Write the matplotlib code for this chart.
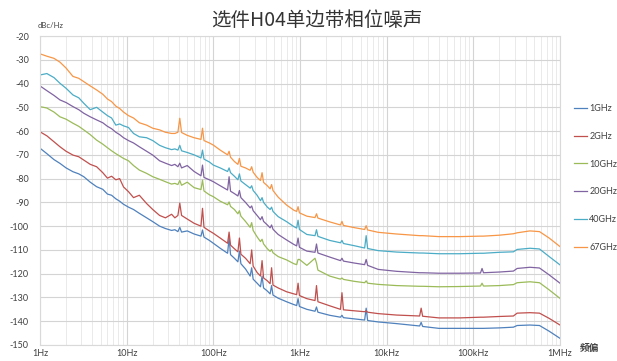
import numpy as np
import matplotlib.pyplot as plt
from matplotlib.ticker import FixedLocator, NullFormatter, LogLocator

plt.rcParams['font.family'] = ['Lato', 'Noto Sans CJK SC', 'DejaVu Sans']

# offset frequency grid (Hz), grouped by decade-ish blocks
freq = [1, 1.2, 1.45, 1.7, 2, 2.4, 2.8, 3.2, 3.8, 4.5, 5.3, 6.0, 6.7, 7.5, 8.3, 9.2,
        10.5, 12, 14, 17, 20, 24, 28, 33, 36, 39, 41, 43, 50, 60, 72, 75, 78, 90,
        100, 120, 146, 152, 158, 175, 192, 200, 208, 235, 266, 277, 288, 320, 350, 365, 380,
        420, 452, 470, 488, 560, 700, 850, 915, 950, 985,
        1200, 1490, 1550, 1610, 2200, 2930, 3050, 3170, 4200, 5570, 5800, 6030, 8000,
        13000, 24000, 25000, 26000, 40000, 70000,
        121000, 126000, 131000, 200000, 290000, 320000, 450000, 580000, 750000, 1000000]

pn_1g = [-67.2, -69.5, -72.0, -73.6, -75.5, -77.1, -78.0, -79.2, -81.5, -83.4, -84.5, -86.5, -87.0, -88.5, -89.5, -90.8,
         -92.0, -93.0, -94.6, -96.5, -98.1, -100.0, -101.0, -101.8, -101.5, -102.3, -100.5, -102.5, -102.0, -103.3, -104.2, -101.6, -104.6, -106.0,
         -107.2, -109.3, -111.4, -105.0, -112.0, -113.5, -115.0, -110.5, -115.8, -118.0, -121.0, -117.5, -122.3, -124.0, -125.5, -121.0, -126.0,
         -127.3, -128.5, -125.0, -129.0, -130.3, -131.8, -133.0, -133.4, -130.5, -133.8,
         -135.0, -135.8, -134.0, -136.2, -137.5, -138.3, -137.5, -138.5, -139.0, -139.5, -134.5, -139.7, -140.3,
         -141.0, -142.0, -140.5, -142.2, -143.0, -143.0,
         -143.0, -143.0, -143.0, -142.8, -142.5, -141.8, -141.6, -141.8, -144.2, -147.2]

pn_2g = [-60.3, -62.0, -64.5, -66.6, -68.5, -70.1, -70.8, -72.2, -74.0, -75.0, -77.5, -79.8, -79.0, -80.5, -80.0, -83.5,
         -85.5, -88.0, -87.0, -90.5, -93.0, -95.5, -96.5, -95.0, -96.5, -95.5, -90.3, -95.5, -97.0, -98.8, -100.0, -92.5, -100.5, -102.0,
         -103.0, -105.0, -107.2, -102.5, -108.0, -109.5, -110.8, -105.0, -111.8, -113.5, -115.8, -110.0, -116.8, -119.5, -121.0, -114.5, -121.8,
         -123.0, -124.2, -117.5, -124.8, -126.0, -127.6, -128.5, -128.8, -124.0, -129.2,
         -130.5, -131.3, -125.0, -131.8, -133.5, -135.0, -128.0, -135.2, -135.6, -136.0, -135.6, -136.2, -136.8,
         -137.4, -137.8, -134.5, -137.9, -138.6, -138.6,
         -138.3, -138.3, -138.3, -138.0, -137.8, -136.6, -136.4, -136.6, -138.8, -141.6]

pn_10g = [-49.7, -50.3, -52.0, -54.0, -55.0, -56.7, -58.0, -59.5, -61.5, -63.8, -65.5, -67.0, -68.3, -69.5, -70.5, -71.5,
          -72.5, -74.5, -76.4, -77.8, -79.2, -80.3, -81.3, -82.3, -82.0, -82.5, -80.8, -82.8, -81.5, -83.8, -84.6, -80.6, -85.2, -86.8,
          -87.6, -89.5, -91.0, -89.8, -91.7, -93.0, -94.8, -93.5, -95.8, -98.0, -100.5, -98.5, -101.8, -104.5, -106.5, -105.5, -107.5,
          -109.5, -110.6, -109.8, -111.2, -112.8, -114.2, -115.8, -116.2, -114.0, -114.0,
          -116.5, -113.5, -115.5, -118.5, -121.0, -122.3, -121.8, -122.4, -123.2, -123.8, -123.0, -124.0, -124.5,
          -125.0, -125.3, -125.3, -125.3, -125.5, -125.4,
          -125.2, -124.0, -125.2, -125.0, -124.6, -123.8, -123.4, -123.8, -126.8, -130.4]

pn_20g = [-41.0, -43.0, -45.0, -46.9, -48.0, -49.7, -51.0, -52.5, -54.0, -55.3, -56.5, -58.0, -59.0, -60.5, -61.5, -62.8,
          -64.0, -65.0, -66.6, -68.5, -70.1, -72.5, -73.5, -74.5, -74.0, -75.0, -73.5, -75.5, -74.5, -77.0, -78.8, -74.3, -79.5, -80.5,
          -81.3, -83.0, -84.8, -79.2, -85.3, -86.3, -87.3, -85.0, -88.0, -90.0, -92.3, -91.5, -93.5, -95.5, -97.3, -96.0, -98.0,
          -99.5, -100.7, -99.5, -101.3, -103.5, -105.8, -107.7, -108.3, -105.0, -108.9,
          -110.5, -111.0, -107.5, -111.3, -113.0, -114.5, -113.5, -114.7, -115.5, -116.2, -114.0, -116.5, -118.2,
          -119.0, -119.6, -119.6, -119.6, -119.8, -119.8,
          -119.7, -117.8, -119.6, -119.3, -118.9, -117.8, -117.3, -117.6, -120.5, -124.0]

pn_40g = [-36.4, -35.8, -37.5, -39.9, -42.0, -44.8, -46.0, -48.3, -51.0, -50.0, -52.0, -53.5, -54.5, -57.5, -57.0, -57.8,
          -58.5, -61.0, -62.4, -62.8, -64.0, -66.0, -67.0, -67.8, -67.5, -68.0, -66.0, -68.3, -69.0, -70.0, -71.3, -68.0, -71.8, -73.0,
          -74.3, -75.5, -77.0, -75.5, -77.5, -79.0, -80.5, -78.0, -81.0, -82.5, -84.0, -83.0, -85.0, -87.0, -89.3, -88.0, -90.0,
          -92.0, -93.0, -92.0, -93.8, -96.0, -98.1, -100.2, -100.8, -97.5, -101.4,
          -103.5, -104.0, -101.5, -104.3, -106.0, -107.0, -106.0, -107.3, -108.2, -109.2, -104.0, -109.4, -110.3,
          -110.9, -111.3, -111.3, -111.3, -111.6, -111.6,
          -111.4, -111.4, -111.4, -111.0, -110.8, -109.8, -109.3, -109.6, -112.8, -116.3]

pn_67g = [-27.5, -28.5, -29.4, -31.0, -33.5, -37.0, -37.8, -39.2, -41.0, -42.7, -44.5, -46.5, -47.6, -49.5, -50.5, -52.0,
          -53.5, -54.5, -56.5, -57.5, -58.8, -59.5, -60.5, -61.0, -61.0, -60.5, -54.6, -60.6, -61.8, -62.8, -63.5, -58.8, -64.0, -65.0,
          -65.9, -68.0, -70.0, -68.5, -71.0, -72.8, -74.0, -71.5, -74.8, -75.5, -76.5, -75.0, -77.3, -79.5, -80.8, -77.5, -81.6,
          -83.0, -84.3, -82.5, -85.0, -87.8, -91.1, -93.3, -93.8, -91.8, -94.4,
          -95.8, -96.4, -94.8, -96.6, -98.2, -99.5, -98.0, -99.7, -100.6, -101.4, -99.8, -101.6, -102.6,
          -103.3, -104.0, -104.0, -104.0, -104.4, -104.4,
          -104.2, -104.2, -104.2, -103.8, -103.2, -102.8, -102.0, -102.3, -105.0, -108.6]

series = [('1GHz', pn_1g, '#4F81BD'),
          ('2GHz', pn_2g, '#C0504D'),
          ('10GHz', pn_10g, '#9BBB59'),
          ('20GHz', pn_20g, '#8064A2'),
          ('40GHz', pn_40g, '#4BACC6'),
          ('67GHz', pn_67g, '#F79646')]

yticks = list(range(-20, -151, -10))
xticks = [1, 10, 100, 1e3, 1e4, 1e5, 1e6]
xticklabels = ['1Hz', '10Hz', '100Hz', '1kHz', '10kHz', '100kHz', '1MHz']

for name, vals, c in series:
    if len(vals) != len(freq):
        raise ValueError('%s has %d points, freq has %d' % (name, len(vals), len(freq)))

fig = plt.figure(figsize=(6.17, 3.61), dpi=100)
ax = fig.add_axes([40/617, 1-345/361, 520/617, 309/361])

for name, vals, c in series:
    ax.plot(freq, vals, '-', color=c, lw=0.9, label=name)

ax.set_xscale('log')
ax.set_xlim(1, 1e6)
ax.set_ylim(-150, -20)
ax.xaxis.set_major_locator(FixedLocator(xticks))
ax.set_xticklabels(xticklabels)
ax.xaxis.set_minor_locator(LogLocator(base=10, subs=np.arange(2, 10)))
ax.xaxis.set_minor_formatter(NullFormatter())
ax.set_yticks(yticks)
ax.set_yticklabels(['%d' % v for v in yticks])

ax.grid(which='major', color='#d4d4d4', lw=0.8)
ax.grid(which='minor', axis='x', color='#e6e6e6', lw=0.6)
ax.set_axisbelow(True)
ax.tick_params(which='both', length=0, labelsize=6.5, colors='#404040')
ax.tick_params(axis='x', pad=3)
ax.tick_params(axis='y', pad=8)
for sp in ax.spines.values():
    sp.set_color('#d9d9d9')
    sp.set_linewidth(0.8)

fig.text(317/617, 1-21/361, '选件H04单边带相位噪声', ha='center', va='center',
         fontsize=14, color='#333333', family=['Noto Sans CJK SC', 'DejaVu Sans'])
fig.text(51/617, 1-25/361, 'dBc/Hz', ha='center', va='center', fontsize=5.5, color='#404040')
fig.text(590/617, 1-348/361, '频偏', ha='center', va='center', fontsize=7, color='#404040',
         weight='bold', family=['Noto Sans CJK SC', 'DejaVu Sans'])

fig.legend(loc='upper left', bbox_to_anchor=(574/617, 1-104/361), frameon=False,
           fontsize=6.5, handlelength=1.4, handletextpad=0.3, labelspacing=2.08,
           labelcolor='#404040', borderaxespad=0, borderpad=0)

fig.savefig('out.png', dpi=100)
